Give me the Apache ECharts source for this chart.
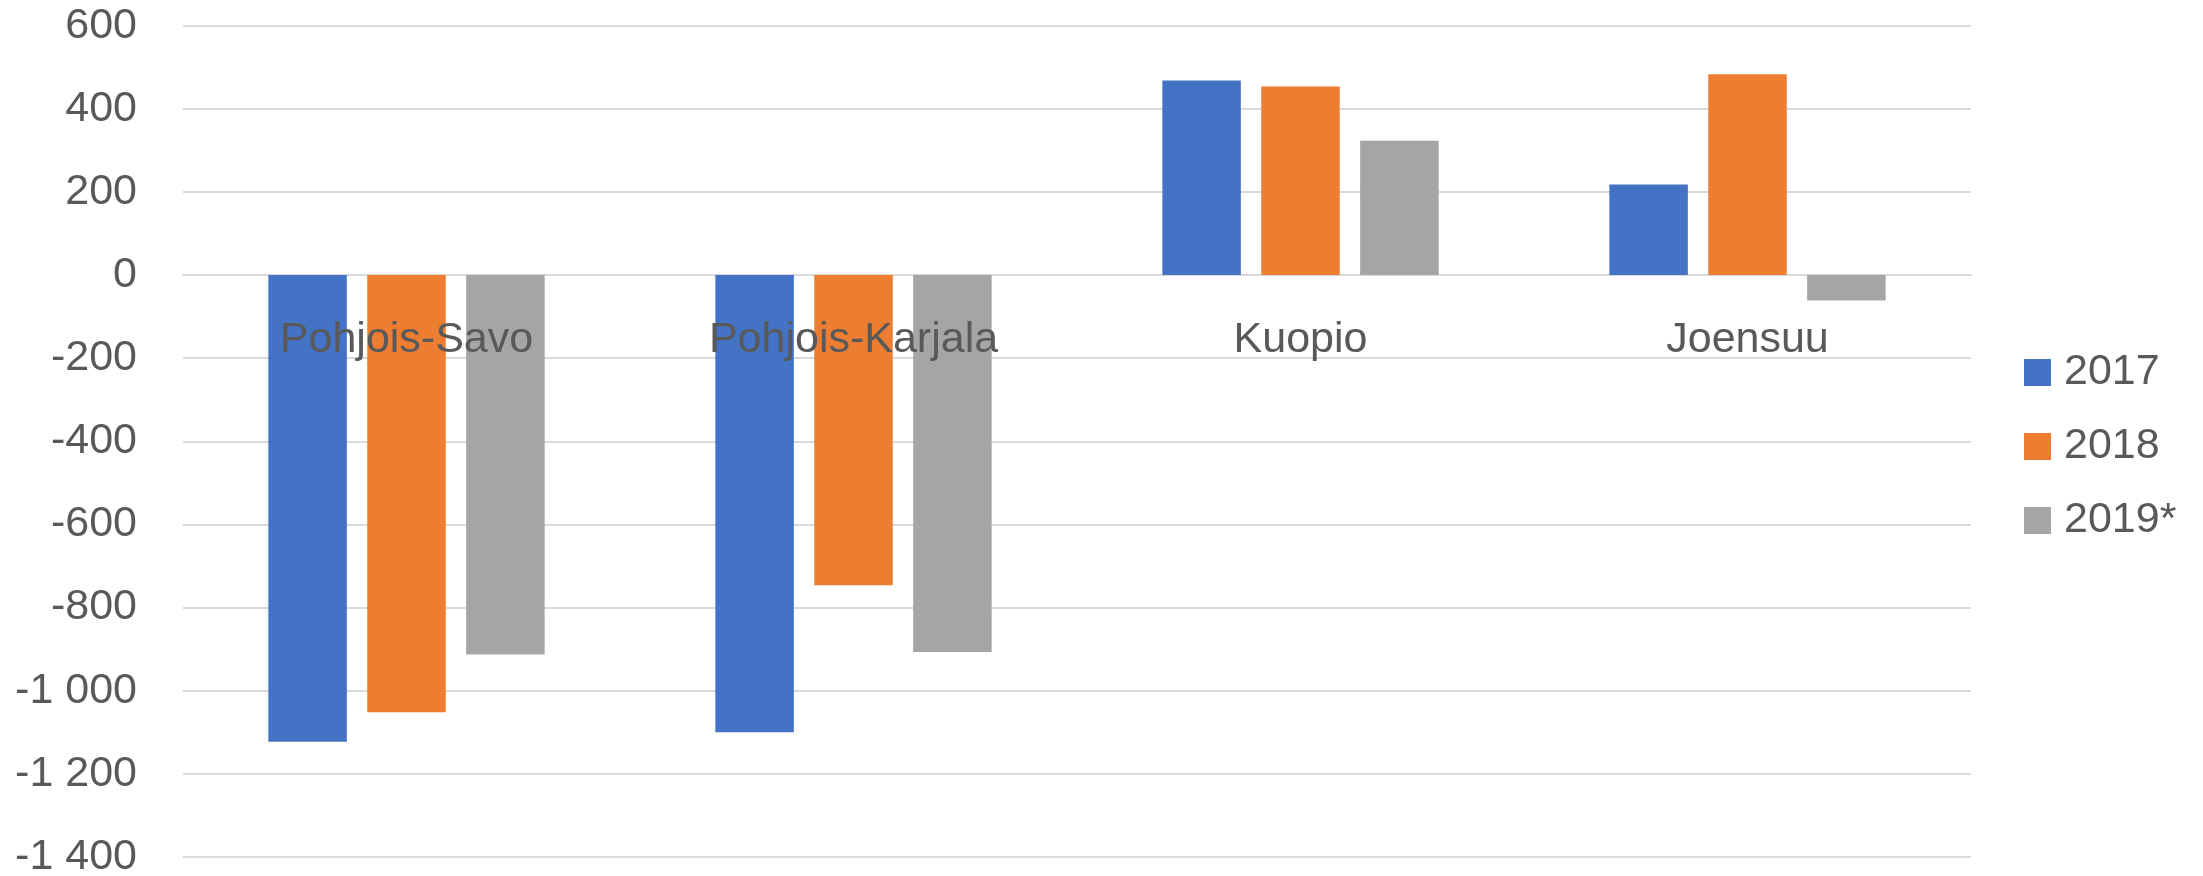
<!DOCTYPE html>
<html>
<head>
<meta charset="utf-8">
<script src="https://cdn.jsdelivr.net/npm/echarts@6/dist/echarts.min.js"></script>
<style>
html,body{margin:0;padding:0;background:#fff;}
#chart{width:2203px;height:876px;}
</style>
</head>
<body>
<div id="chart"></div>
<script>
const categories = ['Pohjois-Savo', 'Pohjois-Karjala', 'Kuopio', 'Joensuu'];
const seriesNames = ['2017', '2018', '2019*'];
const v2017 = [-1123, -1100, 468, 218];
const v2018 = [-1052, -746, 454, 483];
const v2019 = [-913, -907, 323, -61];
const yTicks = [600, 400, 200, 0, -200, -400, -600, -800, -1000, -1200, -1400];

const colors = ['#4472C4', '#ED7D31', '#A5A5A5'];
const textColor = '#595959';
const gridColor = '#D9D9D9';

function fmt(v) {
  const s = Math.abs(v).toString().replace(/\B(?=(\d{3})+(?!\d))/g, ' ');
  return (v < 0 ? '-' : '') + s;
}

const chart = echarts.init(document.getElementById('chart'));
const data = [v2017, v2018, v2019];
const barSeries = seriesNames.map((n, i) => ({
  name: n,
  type: 'bar',
  data: data[i],
  barWidth: 78.5,
  barGap: '26%',
  itemStyle: { color: colors[i] }
}));
// category names placed at the zero line (like an axis crossing at 0)
const labelSeries = {
  name: 'categoryLabels',
  type: 'scatter',
  z: 10,
  silent: true,
  symbolSize: 2,
  itemStyle: { color: 'rgba(0,0,0,0)', opacity: 1 },
  data: categories.map(c => [c, 0]),
  label: {
    show: true,
    position: 'bottom',
    distance: 43,
    opacity: 1,
    color: textColor,
    fontSize: 43,
    fontFamily: 'Liberation Sans',
    formatter: p => p.value[0]
  }
};

chart.setOption({
  animation: false,
  color: colors,
  grid: { left: 183, right: 232, top: 25.7, bottom: 19, containLabel: false, outerBoundsMode: 'none' },
  legend: {
    orient: 'vertical',
    left: 2019,
    top: 344,
    icon: 'rect',
    itemWidth: 27,
    itemHeight: 27,
    itemGap: 27,
    data: seriesNames,
    textStyle: {
      color: textColor,
      fontSize: 43,
      fontFamily: 'Liberation Sans',
      lineHeight: 47,
      padding: [0, 0, 0, 8]
    }
  },
  xAxis: {
    type: 'category',
    data: categories,
    axisLine: { show: true, onZero: true, lineStyle: { color: gridColor, width: 2 } },
    axisTick: { show: false },
    axisLabel: { show: false },
    splitLine: { show: false }
  },
  yAxis: {
    type: 'value',
    min: yTicks[yTicks.length - 1],
    max: yTicks[0],
    interval: 200,
    axisLine: { show: false },
    axisTick: { show: false },
    axisLabel: {
      color: textColor,
      fontSize: 43,
      fontFamily: 'Liberation Sans',
      margin: 46,
      formatter: fmt
    },
    splitLine: { lineStyle: { color: gridColor, width: 2 } }
  },
  series: barSeries.concat([labelSeries])
});
</script>
</body>
</html>
